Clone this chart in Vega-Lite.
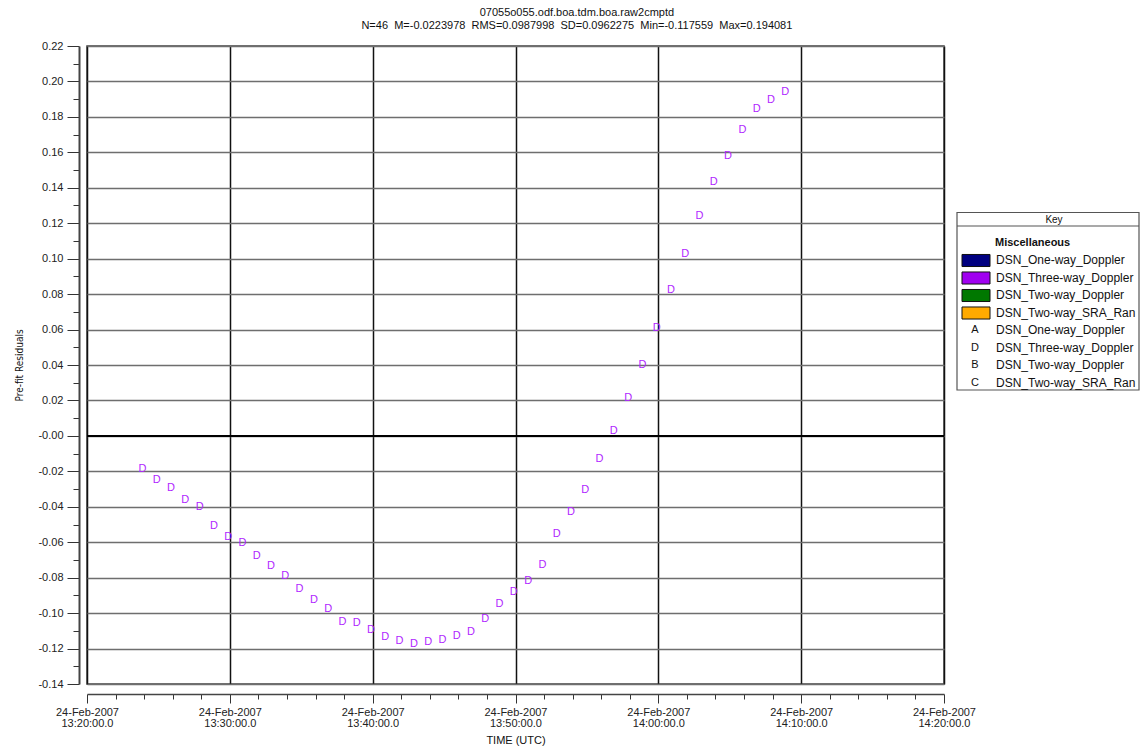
{
  "$schema": "https://vega.github.io/schema/vega-lite/v6.json",
  "background": "white",
  "padding": {"left": 14, "top": 7, "right": 0, "bottom": 0},
  "title": {
    "text": ["07055o055.odf.boa.tdm.boa.raw2cmptd", "N=46\u00a0\u00a0M=-0.0223978\u00a0\u00a0RMS=0.0987998\u00a0\u00a0SD=0.0962275\u00a0\u00a0Min=-0.117559\u00a0\u00a0Max=0.194081"],
    "anchor": "middle",
    "font": "Liberation Sans",
    "fontSize": 11,
    "fontWeight": "normal",
    "lineHeight": 13,
    "offset": 8,
    "color": "#111"
  },
  "config": {"view": {"stroke": null}, "font": "Liberation Sans"},
  "spacing": 13,
  "bounds": "flush",
  "hconcat": [
    {
      "width": 857,
      "height": 638,
      "view": {"stroke": "#444", "strokeWidth": 1.5},
      "data": {"values": [
        {"t": "2007-02-24T13:23:53Z", "v": -0.0185},
        {"t": "2007-02-24T13:24:53Z", "v": -0.0247},
        {"t": "2007-02-24T13:25:53Z", "v": -0.0292},
        {"t": "2007-02-24T13:26:53Z", "v": -0.0359},
        {"t": "2007-02-24T13:27:53Z", "v": -0.0401},
        {"t": "2007-02-24T13:28:53Z", "v": -0.0510},
        {"t": "2007-02-24T13:29:53Z", "v": -0.0568},
        {"t": "2007-02-24T13:30:53Z", "v": -0.0607},
        {"t": "2007-02-24T13:31:53Z", "v": -0.0675},
        {"t": "2007-02-24T13:32:53Z", "v": -0.0735},
        {"t": "2007-02-24T13:33:53Z", "v": -0.0788},
        {"t": "2007-02-24T13:34:53Z", "v": -0.0863},
        {"t": "2007-02-24T13:35:53Z", "v": -0.0928},
        {"t": "2007-02-24T13:36:53Z", "v": -0.0979},
        {"t": "2007-02-24T13:37:53Z", "v": -0.1051},
        {"t": "2007-02-24T13:38:53Z", "v": -0.1055},
        {"t": "2007-02-24T13:39:53Z", "v": -0.1096},
        {"t": "2007-02-24T13:40:53Z", "v": -0.1135},
        {"t": "2007-02-24T13:41:53Z", "v": -0.1159},
        {"t": "2007-02-24T13:42:53Z", "v": -0.1176},
        {"t": "2007-02-24T13:43:53Z", "v": -0.1162},
        {"t": "2007-02-24T13:44:53Z", "v": -0.1154},
        {"t": "2007-02-24T13:45:53Z", "v": -0.1128},
        {"t": "2007-02-24T13:46:53Z", "v": -0.1105},
        {"t": "2007-02-24T13:47:53Z", "v": -0.1036},
        {"t": "2007-02-24T13:48:53Z", "v": -0.0948},
        {"t": "2007-02-24T13:49:53Z", "v": -0.0883},
        {"t": "2007-02-24T13:50:53Z", "v": -0.0821},
        {"t": "2007-02-24T13:51:53Z", "v": -0.0726},
        {"t": "2007-02-24T13:52:53Z", "v": -0.0553},
        {"t": "2007-02-24T13:53:53Z", "v": -0.0429},
        {"t": "2007-02-24T13:54:53Z", "v": -0.0307},
        {"t": "2007-02-24T13:55:53Z", "v": -0.0128},
        {"t": "2007-02-24T13:56:53Z", "v": 0.0029},
        {"t": "2007-02-24T13:57:53Z", "v": 0.0211},
        {"t": "2007-02-24T13:58:53Z", "v": 0.0401},
        {"t": "2007-02-24T13:59:53Z", "v": 0.0611},
        {"t": "2007-02-24T14:00:53Z", "v": 0.0824},
        {"t": "2007-02-24T14:01:53Z", "v": 0.1026},
        {"t": "2007-02-24T14:02:53Z", "v": 0.1238},
        {"t": "2007-02-24T14:03:53Z", "v": 0.1432},
        {"t": "2007-02-24T14:04:53Z", "v": 0.1582},
        {"t": "2007-02-24T14:05:53Z", "v": 0.1725},
        {"t": "2007-02-24T14:06:53Z", "v": 0.1845},
        {"t": "2007-02-24T14:07:53Z", "v": 0.1894},
        {"t": "2007-02-24T14:08:53Z", "v": 0.1941}
      ]},
      "layer": [
        {
          "mark": {"type": "text", "fontSize": 11, "color": "#b026ff", "font": "Liberation Sans", "align": "center", "baseline": "middle"},
          "encoding": {
            "x": {
              "field": "t", "type": "temporal",
              "scale": {"type": "utc", "domain": [
                {"year": 2007, "month": 2, "date": 24, "hours": 13, "minutes": 20, "utc": true},
                {"year": 2007, "month": 2, "date": 24, "hours": 14, "minutes": 20, "utc": true}
              ]},
              "axis": {
                "values": [1172323200000, 1172323320000, 1172323440000, 1172323560000, 1172323680000, 1172323800000, 1172323920000, 1172324040000, 1172324160000, 1172324280000, 1172324400000, 1172324520000, 1172324640000, 1172324760000, 1172324880000, 1172325000000, 1172325120000, 1172325240000, 1172325360000, 1172325480000, 1172325600000, 1172325720000, 1172325840000, 1172325960000, 1172326080000, 1172326200000, 1172326320000, 1172326440000, 1172326560000, 1172326680000, 1172326800000],
                "tickCount": 40,
                "title": "TIME (UTC)",
                "titleFont": "Liberation Sans",
                "titleFontSize": 11,
                "titleFontWeight": "normal",
                "titleColor": "#111",
                "titlePadding": 6,
                "offset": 10,
                "domainColor": "#444",
                "domainWidth": 1.5,
                "tickColor": "#333",
                "tickWidth": 1,
                "tickSize": {"condition": {"test": "(datum.value - 1172323200000) % 600000 == 0", "value": 9}, "value": 5},
                "labelExpr": "(datum.value - 1172323200000) % 600000 == 0 ? [utcFormat(datum.value, '%d-%b-%Y'), utcFormat(datum.value, '%H:%M:%S') + '.0'] : ''",
                "labelFont": "Liberation Sans",
                "labelFontSize": 11,
                "labelLineHeight": 11,
                "labelColor": "#222",
                "labelPadding": 3,
                "labelOverlap": false,
                "labelFlush": false,
                "labelBound": false,
                "grid": true,
                "gridColor": "#111",
                "gridWidth": 1.5,
                "gridOpacity": {"condition": {"test": "(datum.value - 1172323200000) % 600000 == 0", "value": 1}, "value": 0}
              }
            },
            "y": {
              "field": "v", "type": "quantitative",
              "scale": {"domain": [-0.14, 0.22], "nice": false, "zero": false},
              "axis": {
                "values": [-0.14, -0.13, -0.12, -0.11, -0.1, -0.09, -0.08, -0.07, -0.06, -0.05, -0.04, -0.03, -0.02, -0.01, 0, 0.01, 0.02, 0.03, 0.04, 0.05, 0.06, 0.07, 0.08, 0.09, 0.1, 0.11, 0.12, 0.13, 0.14, 0.15, 0.16, 0.17, 0.18, 0.19, 0.2, 0.21, 0.22],
                "tickCount": 60,
                "title": "Pre-fit Residuals",
                "titleFont": "DejaVu Sans Condensed, Liberation Sans",
                "titleFontSize": 10,
                "titleFontWeight": "normal",
                "titleColor": "#111",
                "titlePadding": 13,
                "offset": 8,
                "domainColor": "#444",
                "domainWidth": 2,
                "tickColor": "#333",
                "tickWidth": 1,
                "tickSize": {"condition": {"test": "abs(round(datum.value * 100)) % 2 == 0", "value": 12}, "value": 6},
                "labelExpr": "abs(round(datum.value * 100)) % 2 == 0 ? ((datum.value <= 0 ? '-' : '') + format(abs(datum.value), '.2f')) : ''",
                "labelFont": "Liberation Sans",
                "labelFontSize": 11,
                "labelColor": "#222",
                "labelPadding": 4,
                "labelOverlap": false,
                "labelFlush": false,
                "labelBound": false,
                "grid": true,
                "gridColor": "#6e6e6e",
                "gridWidth": 1.5,
                "gridOpacity": {"condition": {"test": "abs(round(datum.value * 100)) % 2 == 0", "value": 1}, "value": 0}
              }
            },
            "text": {"value": "D"}
          }
        },
        {
          "mark": {"type": "rule", "color": "#000", "strokeWidth": 2},
          "encoding": {"y": {"datum": 0, "type": "quantitative"}}
        }
      ]
    },
    {
      "width": 182,
      "height": 638,
      "data": {"values": [
        {"r": 0, "kind": "header", "label": "Key"},
        {"r": 1, "kind": "group", "label": "Miscellaneous"},
        {"r": 2, "kind": "swatch", "label": "DSN_One-way_Doppler"},
        {"r": 3, "kind": "swatch", "label": "DSN_Three-way_Doppler"},
        {"r": 4, "kind": "swatch", "label": "DSN_Two-way_Doppler"},
        {"r": 5, "kind": "swatch", "label": "DSN_Two-way_SRA_Ran"},
        {"r": 6, "kind": "symbol", "sym": "A", "label": "DSN_One-way_Doppler"},
        {"r": 7, "kind": "symbol", "sym": "D", "label": "DSN_Three-way_Doppler"},
        {"r": 8, "kind": "symbol", "sym": "B", "label": "DSN_Two-way_Doppler"},
        {"r": 9, "kind": "symbol", "sym": "C", "label": "DSN_Two-way_SRA_Ran"}
      ]},
      "layer": [
        {
          "transform": [{"aggregate": [{"op": "min", "field": "r", "as": "r0"}, {"op": "max", "field": "r", "as": "r1"}]}],
          "mark": {"type": "rect", "fill": "white", "stroke": "#555", "strokeWidth": 1.2, "yOffset": -13, "y2Offset": 7},
          "encoding": {
            "y": {"field": "r0", "type": "quantitative", "scale": {"domain": [-10.257, 26.2], "reverse": true, "nice": false, "zero": false}, "axis": null},
            "y2": {"field": "r1"},
            "x": {"value": 0},
            "x2": {"value": "width"}
          }
        },
        {
          "transform": [{"filter": "datum.kind == 'header'"}],
          "mark": {"type": "rule", "color": "#555", "strokeWidth": 1.2, "yOffset": 0.5},
          "encoding": {
            "y": {"field": "r", "type": "quantitative", "scale": {"domain": [-10.257, 26.2], "reverse": true, "nice": false, "zero": false}, "axis": null},
            "x": {"value": 0},
            "x2": {"value": "width"}
          }
        },
        {
          "transform": [{"filter": "datum.kind == 'header'"}],
          "mark": {"type": "text", "fontSize": 10, "color": "#111", "align": "center", "baseline": "middle", "yOffset": -5},
          "encoding": {
            "y": {"field": "r", "type": "quantitative", "scale": {"domain": [-10.257, 26.2], "reverse": true, "nice": false, "zero": false}, "axis": null},
            "x": {"value": 97},
            "text": {"field": "label"}
          }
        },
        {
          "transform": [{"filter": "datum.kind == 'group'"}],
          "mark": {"type": "text", "fontSize": 11, "fontWeight": "bold", "color": "#111", "align": "left", "baseline": "middle"},
          "encoding": {
            "y": {"field": "r", "type": "quantitative", "scale": {"domain": [-10.257, 26.2], "reverse": true, "nice": false, "zero": false}, "axis": null},
            "x": {"value": 38},
            "text": {"field": "label"}
          }
        },
        {
          "transform": [{"filter": "datum.kind == 'swatch'"}],
          "mark": {"type": "point", "shape": "M-1,-0.43H1V0.43H-1Z", "size": 784, "filled": true, "stroke": "#111", "strokeWidth": 1, "opacity": 1},
          "encoding": {
            "y": {"field": "r", "type": "quantitative", "scale": {"domain": [-10.257, 26.2], "reverse": true, "nice": false, "zero": false}, "axis": null},
            "x": {"value": 19},
            "fill": {"field": "label", "type": "nominal", "scale": {"domain": ["DSN_One-way_Doppler", "DSN_Three-way_Doppler", "DSN_Two-way_Doppler", "DSN_Two-way_SRA_Ran"], "range": ["#000080", "#a000f0", "#007800", "#ffaa00"]}, "legend": null}
          }
        },
        {
          "transform": [{"filter": "datum.kind == 'symbol'"}],
          "mark": {"type": "text", "fontSize": 11, "color": "#111", "align": "center", "baseline": "middle"},
          "encoding": {
            "y": {"field": "r", "type": "quantitative", "scale": {"domain": [-10.257, 26.2], "reverse": true, "nice": false, "zero": false}, "axis": null},
            "x": {"value": 18},
            "text": {"field": "sym"}
          }
        },
        {
          "transform": [{"filter": "datum.kind == 'swatch' || datum.kind == 'symbol'"}],
          "mark": {"type": "text", "fontSize": 12, "color": "#111", "align": "left", "baseline": "middle", "clip": true},
          "encoding": {
            "y": {"field": "r", "type": "quantitative", "scale": {"domain": [-10.257, 26.2], "reverse": true, "nice": false, "zero": false}, "axis": null},
            "x": {"value": 39},
            "text": {"field": "label"}
          }
        }
      ]
    }
  ]
}
